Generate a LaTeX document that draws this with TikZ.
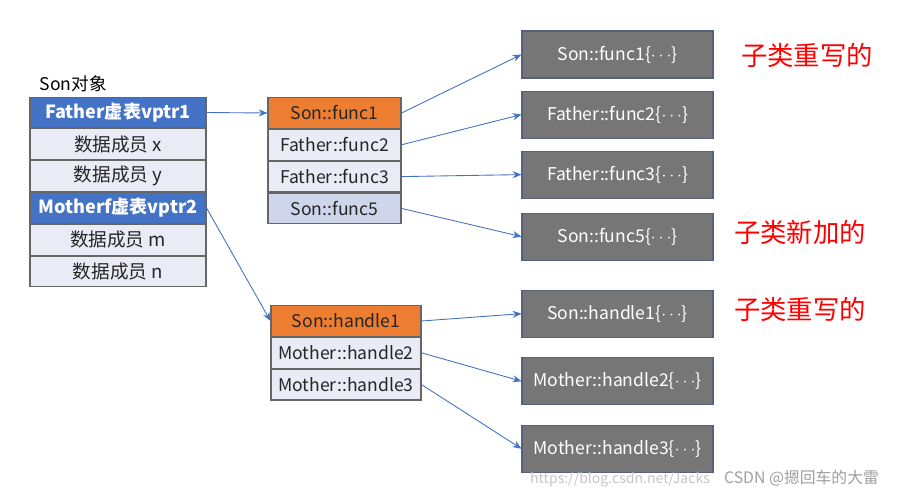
\documentclass[tikz,border=0pt]{standalone}
\usepackage{fontspec}
\setmainfont{Noto Sans CJK SC}
\usetikzlibrary{arrows.meta,positioning}

\definecolor{hdblue}{HTML}{4472C4}
\definecolor{rowgray}{HTML}{E9EBF5}
\definecolor{rowblue}{HTML}{CFD5EA}
\definecolor{fnorange}{HTML}{ED7D31}
\definecolor{implgray}{HTML}{767676}
\definecolor{impledge}{HTML}{56627A}

\begin{document}
\begin{tikzpicture}[
        x=0.02cm, y=-0.02cm,
        font=\fontsize{10}{12}\selectfont,
        node distance=0pt,
        cell/.style={draw=gray!80!black, line width=0.6pt, fill=rowgray, minimum height=0.615cm, inner sep=0pt, text=black!85},
        member/.style={cell, minimum width=3.52cm, font=\fontsize{10.6}{12}\selectfont},
        vptr/.style={member, fill=hdblue, text=white, font=\fontsize{10.3}{12}\selectfont\bfseries},
        vfunc/.style={cell, minimum width=2.66cm},
        mfunc/.style={cell, minimum width=3cm},
        impl/.style={draw=impledge, line width=0.6pt, fill=implgray, text=white, minimum width=3.82cm, minimum height=0.94cm, inner sep=0pt},
        note/.style={text=red, font=\fontsize{15}{18}\selectfont},
        arrow/.style={-{Stealth[length=5pt, width=4pt]}, hdblue, line width=0.5pt}
    ]
        \useasboundingbox[fill=white] (0,0) rectangle (909,487);

        % Son object layout
        \node[vptr] (fvptr) at (118,112.5) {Father虚表vptr1};
        \node[member, below=of fvptr] (dx) {数据成员 x};
        \node[member, below=of dx] (dy) {数据成员 y};
        \node[vptr, below=of dy] (mvptr) {Motherf虚表vptr2};
        \node[member, below=of mvptr] (dm) {数据成员 m};
        \node[member, below=of dm] (dn) {数据成员 n};
        \node[anchor=south west, inner sep=2pt] (title) at (36,96) {Son对象};

        % Father vtable
        \node[vfunc, fill=fnorange] (sf1) at (334.5,113) {Son::func1};
        \node[vfunc, below=of sf1] (ff2) {Father::func2};
        \node[vfunc, below=of ff2] (ff3) {Father::func3};
        \node[vfunc, below=of ff3, fill=rowblue] (sf5) {Son::func5};

        % Mother vtable
        \node[mfunc, fill=fnorange] (sh1) at (346,321) {Son::handle1};
        \node[mfunc, below=of sh1] (mh2) {Mother::handle2};
        \node[mfunc, below=of mh2] (mh3) {Mother::handle3};

        % Function bodies
        \node[impl] (rf1) at (617.5,54.5) {Son::func1\{$\cdots$\}};
        \node[impl, below=0.24cm of rf1] (rf2) {Father::func2\{$\cdots$\}};
        \node[impl, below=0.24cm of rf2] (rf3) {Father::func3\{$\cdots$\}};
        \node[impl, below=0.28cm of rf3] (rf5) {Son::func5\{$\cdots$\}};
        \node[impl, below=0.58cm of rf5] (rh1) {Son::handle1\{$\cdots$\}};
        \node[impl, below=0.39cm of rh1] (rh2) {Mother::handle2\{$\cdots$\}};
        \node[impl, below=0.39cm of rh2] (rh3) {Mother::handle3\{$\cdots$\}};

        % Notes
        \node[note] (n1) at (807,55) {子类重写的};
        \node[note] (n2) at (800,232) {子类新加的};
        \node[note] (n3) at (800,309) {子类重写的};

        % Connections
        \draw[arrow] (fvptr.east) -- (sf1.west);
        \draw[arrow] (mvptr.east) -- (sh1.west);
        \draw[arrow] (sf1.east) -- (rf1.west);
        \draw[arrow] (ff2.east) -- (rf2.west);
        \draw[arrow] (ff3.east) -- (rf3.west);
        \draw[arrow] (sf5.east) -- (rf5.west);
        \draw[arrow] (sh1.east) -- (rh1.west);
        \draw[arrow] (mh2.east) -- (rh2.west);
        \draw[arrow] (mh3.east) -- (rh3.west);

        % Watermark
        \node[anchor=east, text=gray!45, font=\fontsize{8}{9}\selectfont, inner sep=1pt] (url) at (712,480) {https://blog.csdn.net/Jacks};
        \node[anchor=west, text=gray!75, font=\fontsize{9}{11}\selectfont, inner sep=1pt] (mark) at (722,478) {CSDN @摁回车的大雷};

    \end{tikzpicture}
\end{document}
